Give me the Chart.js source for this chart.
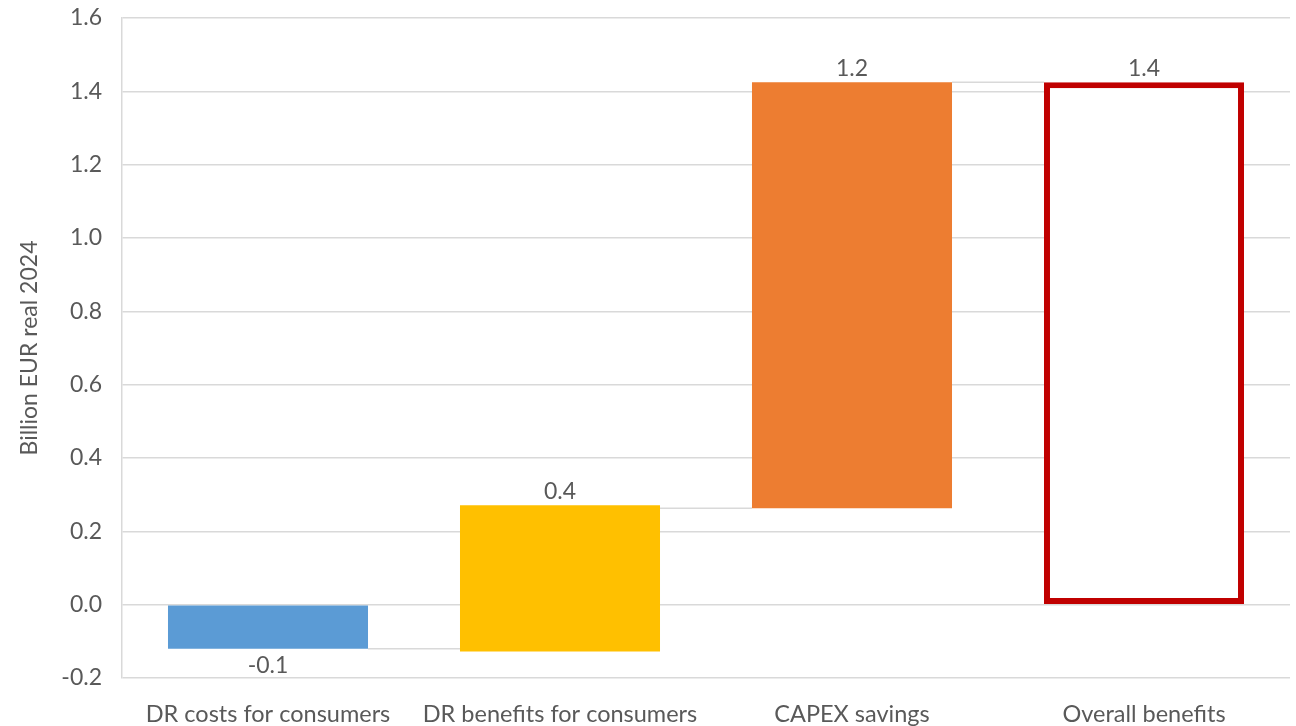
<!DOCTYPE html>
<html>
<head>
<meta charset="utf-8">
<script src="https://cdn.jsdelivr.net/npm/chart.js@4.4.1/dist/chart.umd.min.js"></script>
<style>
  html, body { margin: 0; padding: 0; background: #fff; }
</style>
</head>
<body>
<canvas id="chart" width="1296" height="726"></canvas>
<script>
// data
const categories = ['DR costs for consumers', 'DR benefits for consumers', 'CAPEX savings', 'Overall benefits'];
const barStarts = [0, -0.128, 0.263, 0];
const barEnds = [-0.12, 0.271, 1.425, 1.425];
const valueLabels = ['-0.1', '0.4', '1.2', '1.4'];
const connectorLevels = [-0.12, 0.263, 1.425];
const yTicks = [-0.2, 0, 0.2, 0.4, 0.6, 0.8, 1.0, 1.2, 1.4, 1.6];

const FONT = 'Lato';
const TEXT = '#595959';
const GRID = '#d9d9d9';

// connector lines and value labels
const waterfallExtras = {
    id: 'waterfallExtras',
    beforeDatasetsDraw(chart) {
        const { ctx } = chart;
        const y = chart.scales.y;
        const bars = chart.getDatasetMeta(0).data;
        ctx.save();
        ctx.strokeStyle = GRID;
        ctx.lineWidth = 1.5;
        connectorLevels.forEach((lvl, i) => {
            const a = bars[i], b = bars[i + 1];
            const py = y.getPixelForValue(lvl);
            ctx.beginPath();
            ctx.moveTo(a.x + a.width / 2, py);
            ctx.lineTo(b.x - b.width / 2, py);
            ctx.stroke();
        });
        ctx.restore();
    },
    afterDatasetsDraw(chart) {
        const { ctx } = chart;
        const bars = chart.getDatasetMeta(0).data;
        ctx.save();
        ctx.font = '23px ' + FONT;
        ctx.fillStyle = TEXT;
        ctx.textAlign = 'center';
        ctx.textBaseline = 'alphabetic';
        bars.forEach((bar, i) => {
            const top = Math.min(bar.y, bar.base);
            const bottom = Math.max(bar.y, bar.base);
            if (barEnds[i] < barStarts[i]) {
                ctx.fillText(valueLabels[i], bar.x, bottom + 24);
            } else {
                ctx.fillText(valueLabels[i], bar.x, top - 6);
            }
        });
        ctx.restore();
    }
};

new Chart(document.getElementById('chart'), {
    type: 'bar',
    data: {
        labels: categories,
        datasets: [{
            data: barStarts.map((s, i) => [s, barEnds[i]]),
            backgroundColor: ['#5b9bd5', '#ffc000', '#ed7d31', '#ffffff'],
            borderColor: ['#5b9bd5', '#ffc000', '#ed7d31', '#c00000'],
            borderWidth: [0, 0, 0, 6],
            borderSkipped: false,
            barPercentage: 0.685,
            categoryPercentage: 1
        }]
    },
    options: {
        responsive: false,
        animation: false,
        devicePixelRatio: 1,
        layout: { padding: { top: 18, right: 6, left: 0, bottom: 0 } },
        plugins: {
            legend: { display: false },
            tooltip: { enabled: false }
        },
        scales: {
            x: {
                grid: { display: false, drawTicks: false },
                border: { display: false },
                ticks: { color: TEXT, font: { family: FONT, size: 23.5 }, padding: 22, maxRotation: 0 },
                afterFit: (scale) => {
                    scale.height = 48;
                    scale.paddingLeft = 0;
                    scale.paddingRight = 0;
                }
            },
            y: {
                min: -0.2,
                max: 1.6,
                afterBuildTicks: (scale) => { scale.ticks = yTicks.map(v => ({ value: v })); },
                grid: { color: GRID, lineWidth: 1.5, drawTicks: false },
                border: { color: GRID, width: 1.5 },
                ticks: {
                    color: TEXT,
                    font: { family: FONT, size: 23 },
                    padding: 20,
                    callback: (v) => Number(v).toFixed(1)
                },
                title: {
                    display: true,
                    text: 'Billion EUR real 2024',
                    color: TEXT,
                    font: { family: FONT, size: 23 },
                    padding: { top: 16, bottom: 0 }
                },
                afterFit: (scale) => {
                    scale.width = 122;
                    scale.paddingTop = 0;
                    scale.paddingBottom = 0;
                }
            }
        }
    },
    plugins: [waterfallExtras]
});
</script>
</body>
</html>
